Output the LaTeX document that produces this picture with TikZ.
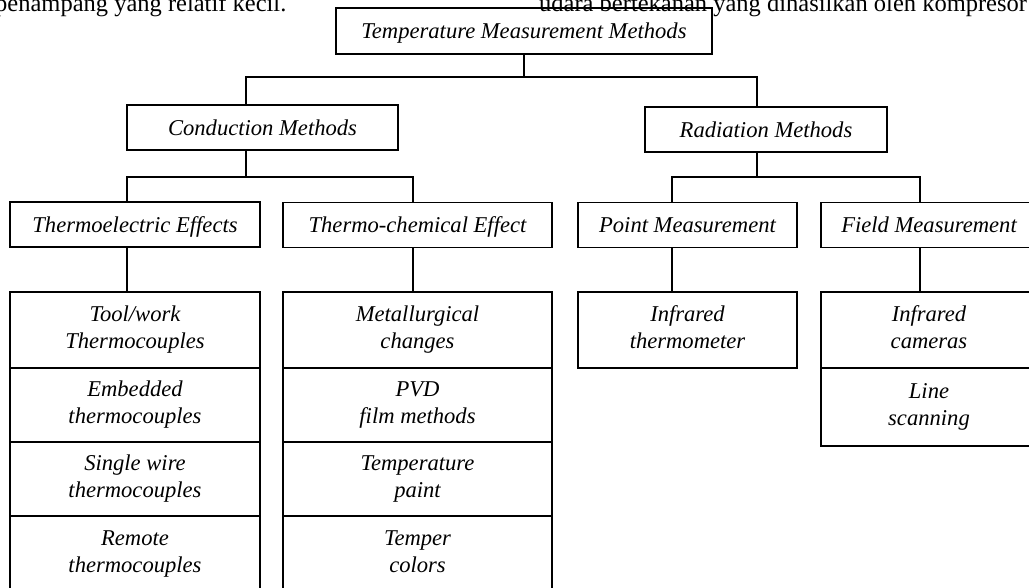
\documentclass[tikz,border=0pt]{standalone}
\usepackage{fontspec}
\setmainfont{Liberation Serif}
\begin{document}
\begin{tikzpicture}[x=1pt,y=-1pt,
  box/.style={draw, line width=1.1pt, inner sep=0pt, align=center,
    font=\fontsize{22.6}{27}\selectfont\itshape},
  one/.style={box, text height=20pt, text depth=5pt},
  two/.style={box, execute at begin node=\strut, execute at end node=\strut},
  conn/.style={line width=1.1pt},
  bgtext/.style={font=\fontsize{24.5}{29}\selectfont, anchor=base west, inner sep=0pt}]
\useasboundingbox (0,0) rectangle (1029,587);
\clip (0,0) rectangle (1029,587);
% background page text (cut off)
\node[bgtext] (bgl) at (-5,11) {penampang yang relatif kecil.};
\node[bgtext] (bgr) at (539,11) {udara bertekanan yang dihasilkan oleh kompresor};
% level 0
\node[one, minimum width=376pt, minimum height=46pt] (top) at (524,31) {Temperature Measurement Methods};
% level 1
\node[one, minimum width=271pt, minimum height=45pt] (cond) at (262.5,127.5) {Conduction Methods};
\node[one, minimum width=242pt, minimum height=45pt] (rad) at (766,129.5) {Radiation Methods};
% level 2
\node[one, minimum width=250pt, minimum height=45pt] (te) at (135,224.5) {Thermoelectric Effects};
\node[one, minimum width=269pt, minimum height=45pt] (tc) at (417.5,225) {Thermo-chemical Effect};
\node[one, minimum width=219pt, minimum height=45pt] (pm) at (687.5,225) {Point Measurement};
\node[one, minimum width=216pt, minimum height=45pt] (fm) at (929,225) {Field Measurement};
% level 3 stacks
\node[two, minimum width=250pt, minimum height=76pt] (te1) at (135,330) {Tool/work\strut\\Thermocouples};
\node[two, minimum width=250pt, minimum height=74pt] (te2) at (135,405) {Embedded\strut\\thermocouples};
\node[two, minimum width=250pt, minimum height=74pt] (te3) at (135,479) {Single wire\strut\\thermocouples};
\node[two, minimum width=250pt, minimum height=76pt] (te4) at (135,554) {Remote\strut\\thermocouples};
\node[two, minimum width=269pt, minimum height=76pt] (tc1) at (417.5,330) {Metallurgical\strut\\changes};
\node[two, minimum width=269pt, minimum height=74pt] (tc2) at (417.5,405) {PVD\strut\\film methods};
\node[two, minimum width=269pt, minimum height=74pt] (tc3) at (417.5,479) {Temperature\strut\\paint};
\node[two, minimum width=269pt, minimum height=76pt] (tc4) at (417.5,554) {Temper\strut\\colors};
\node[two, minimum width=219pt, minimum height=76pt] (pm1) at (687.5,330) {Infrared\strut\\thermometer};
\node[two, minimum width=216pt, minimum height=76pt] (fm1) at (929,330) {Infrared\strut\\cameras};
\node[two, minimum width=216pt, minimum height=78pt] (fm2) at (929,407) {Line\strut\\scanning};
% bus coordinates
\coordinate (b0L) at (246,77);
\coordinate (b0R) at (757,77);
\coordinate (b1L) at (127,177);
\coordinate (b1M) at (246,177);
\coordinate (b1R) at (413,177);
\coordinate (b2L) at (672,177);
\coordinate (b2M) at (757,177);
\coordinate (b2R) at (920,177);
% connectors
\draw[conn] (top.south) -- (top.south |- b0L);
\draw[conn] (cond.north -| b0L) |- (b0R) -- (rad.north -| b0R);
\draw[conn] (cond.south -| b1M) -- (b1M);
\draw[conn] (te.north -| b1L) |- (b1R) -- (tc.north -| b1R);
\draw[conn] (rad.south -| b2M) -- (b2M);
\draw[conn] (pm.north -| b2L) |- (b2R) -- (fm.north -| b2R);
\draw[conn] (te.south -| b1L) -- (te1.north -| b1L);
\draw[conn] (tc.south -| b1R) -- (tc1.north -| b1R);
\draw[conn] (pm.south -| b2L) -- (pm1.north -| b2L);
\draw[conn] (fm.south -| b2R) -- (fm1.north -| b2R);
\end{tikzpicture}
\end{document}
